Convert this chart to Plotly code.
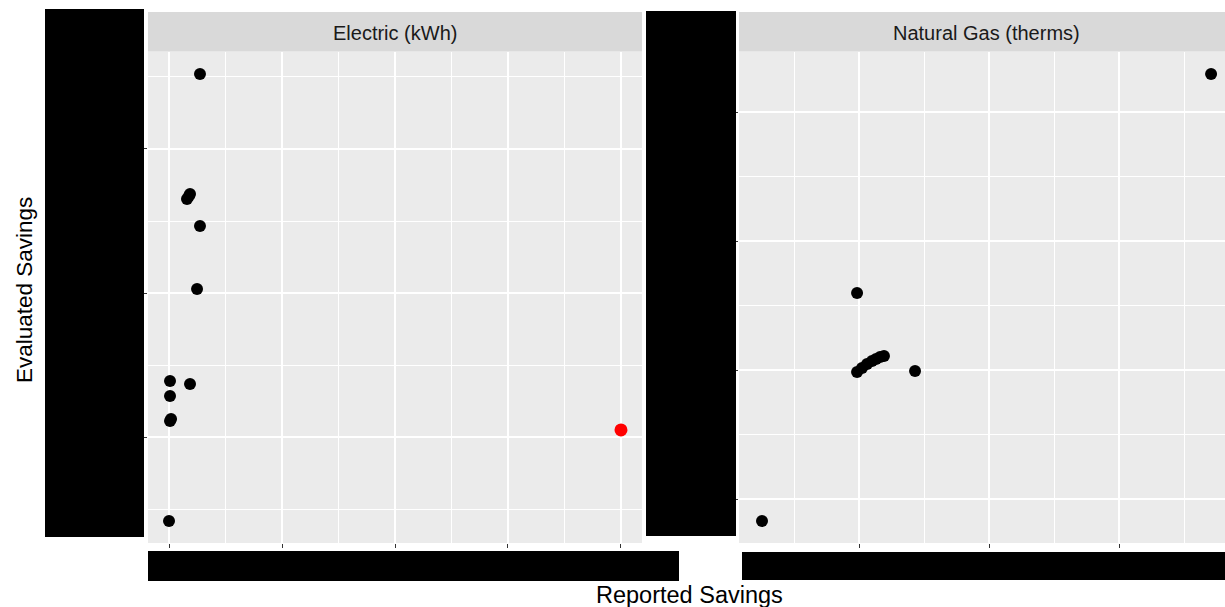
import plotly.graph_objects as go

W, H = 1225, 607

# ---- data ----
elec_reported = [27400, 15900, 18600, 17700, 27400, 24800, 900, 18600, 900, 1800, 900, 0]
elec_evaluated = [252100, 165300, 168750, 167400, 146500, 102800, 38900, 36800, 28500, 12500, 11100, -58300]
elec_outlier_reported = [400000]
elec_outlier_evaluated = [4900]

gas_reported = [-7460, -150, -150, 230, 620, 1000, 1310, 1620, 1920, 4310, 27080]
gas_evaluated = [-11710, 5970, -160, 160, 470, 700, 850, 1010, 1090, -80, 22950]

panel_titles = ["Electric (kWh)", "Natural Gas (therms)"]
x_title = "Reported Savings"
y_title = "Evaluated Savings"

FONT = "Liberation Sans, Arial, sans-serif"

def px(x):
    return x / W

def py(y):
    return 1 - y / H

fig = go.Figure()
fig.add_trace(go.Scatter(x=elec_reported, y=elec_evaluated, mode="markers",
                         marker=dict(size=12, color="black"), xaxis="x", yaxis="y",
                         showlegend=False))
fig.add_trace(go.Scatter(x=elec_outlier_reported, y=elec_outlier_evaluated, mode="markers",
                         marker=dict(size=13, color="#FF0000"), xaxis="x", yaxis="y",
                         showlegend=False))
fig.add_trace(go.Scatter(x=gas_reported, y=gas_evaluated, mode="markers",
                         marker=dict(size=12, color="black"), xaxis="x2", yaxis="y2",
                         showlegend=False))

ydom = [py(543), py(51.5)]

def axis(domain, rng, dtick, anchor):
    return dict(domain=domain, range=rng, tick0=0, dtick=dtick, anchor=anchor,
                showticklabels=False, ticks="outside", ticklen=4, tickwidth=1,
                tickcolor="#333333", showgrid=True, gridcolor="white", gridwidth=1.6,
                zeroline=False, showline=False,
                minor=dict(tick0=0, dtick=dtick / 2, showgrid=True,
                           gridcolor="white", gridwidth=0.9, ticks=""))

layout = dict(
    width=W, height=H, margin=dict(l=0, r=0, t=0, b=0),
    paper_bgcolor="white", plot_bgcolor="#EBEBEB",
    xaxis=axis([px(148), px(642)], [-18600, 418600], 100000, "y"),
    yaxis=axis(ydom, [-73600, 267700], 100000, "x"),
    xaxis2=axis([px(739), 1.0], [-9230, 28150], 10000, "y2"),
    yaxis2=axis(ydom, [-13410, 24690], 10000, "x2"),
)
fig.update_layout(**layout)

shapes = []
# strips
for x0, x1 in [(148, 642), (739, 1225)]:
    shapes.append(dict(type="rect", xref="paper", yref="paper",
                       x0=px(x0), x1=px(x1), y0=py(51.5), y1=py(12),
                       fillcolor="#D9D9D9", line=dict(width=0), layer="below"))
# redaction boxes
for x0, x1, y0, y1 in [(45, 144, 9, 537), (646, 736, 11, 536),
                       (148, 679, 551, 581), (742, 1225, 552, 580)]:
    shapes.append(dict(type="rect", xref="paper", yref="paper",
                       x0=px(x0), x1=px(x1), y0=py(y1), y1=py(y0),
                       fillcolor="black", line=dict(width=0), layer="above"))
fig.update_layout(shapes=shapes)

ann = []
for title, xc in zip(panel_titles, [(148 + 642) / 2, (739 + 1233) / 2]):
    ann.append(dict(text=title, xref="paper", yref="paper", x=px(xc), y=py(33),
                    xanchor="center", yanchor="middle", showarrow=False,
                    font=dict(family=FONT, size=20, color="#1A1A1A")))
ann.append(dict(text=x_title, xref="paper", yref="paper", x=px(689), y=py(595),
                xanchor="center", yanchor="middle", showarrow=False,
                font=dict(family=FONT, size=23.5, color="black")))
ann.append(dict(text=y_title, xref="paper", yref="paper", x=px(24), y=py(290),
                xanchor="center", yanchor="middle", showarrow=False, textangle=-90,
                font=dict(family=FONT, size=22.5, color="black")))
fig.update_layout(annotations=ann)

fig.write_html("out.html", config={"displayModeBar": False},
               post_script="document.body.style.margin='0';document.body.style.overflow='hidden';")
